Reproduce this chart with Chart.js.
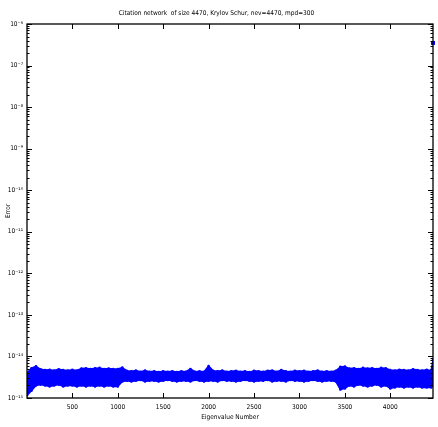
<!DOCTYPE html>
<html>
<head>
<meta charset="utf-8">
<script src="https://cdn.jsdelivr.net/npm/chart.js@4.4.0/dist/chart.umd.min.js"></script>
<style>
  html, body { margin: 0; padding: 0; background: #fff; }
  #wrap { width: 438px; height: 427px; }
</style>
</head>
<body>
<div id="wrap"><canvas id="errChart"></canvas></div>
<script>
// Eigenvalue index (sampled along the band)
const eigIndex = [1, 50, 100, 150, 200, 250, 300, 350, 400, 450,
  500, 550, 600, 650, 700, 750, 800, 850, 900, 950,
  1000, 1050, 1100, 1150, 1200, 1250, 1300, 1350, 1400, 1450,
  1500, 1550, 1600, 1650, 1700, 1750, 1800, 1850, 1900, 1950,
  2000, 2050, 2100, 2150, 2200, 2250, 2300, 2350, 2400, 2450,
  2500, 2550, 2600, 2650, 2700, 2750, 2800, 2850, 2900, 2950,
  3000, 3050, 3100, 3150, 3200, 3250, 3300, 3350, 3400, 3450,
  3500, 3550, 3600, 3650, 3700, 3750, 3800, 3850, 3900, 3950,
  4000, 4050, 4100, 4150, 4200, 4250, 4300, 4350, 4400, 4450, 4470];

// top and bottom of the error band, in units of 1e-15
const errUpper = [4.0, 5.2, 5.8, 4.9, 4.7, 4.8, 4.6, 4.9, 4.7, 4.6,
  4.8, 4.6, 5.1, 5.2, 5.0, 5.2, 5.3, 5.0, 5.1, 5.0,
  5.0, 5.4, 4.5, 4.4, 4.6, 4.3, 4.6, 4.3, 4.4, 4.2,
  4.4, 4.3, 4.4, 4.2, 4.4, 4.3, 5.0, 4.3, 4.4, 4.3,
  5.9, 4.5, 4.4, 4.6, 4.3, 4.4, 4.5, 4.3, 4.4, 4.2,
  4.5, 4.4, 4.3, 4.5, 4.6, 4.3, 4.7, 4.4, 4.3, 4.5,
  4.4, 4.5, 4.3, 4.4, 4.6, 4.3, 4.4, 4.3, 4.5, 5.6,
  5.7, 5.1, 5.2, 5.0, 5.3, 5.1, 5.2, 5.0, 5.3, 5.2,
  4.7, 4.6, 4.8, 4.7, 4.6, 4.9, 4.7, 4.6, 4.8, 4.6, 8.2];
const errLower = [1.15, 1.5, 2.0, 2.1, 2.0, 1.9, 2.0, 2.1, 1.9, 2.0,
  2.0, 1.9, 2.0, 1.9, 2.0, 1.9, 2.0, 1.9, 2.0, 1.9,
  1.9, 2.5, 2.6, 2.5, 2.6, 2.7, 2.5, 2.6, 2.6, 2.5,
  2.6, 2.7, 2.6, 2.5, 2.6, 2.6, 2.5, 2.7, 2.6, 2.5,
  2.6, 2.6, 2.5, 2.7, 2.6, 2.6, 2.5, 2.6, 2.7, 2.6,
  2.5, 2.6, 2.6, 2.7, 2.5, 2.6, 2.6, 2.5, 2.7, 2.6,
  2.6, 2.5, 2.6, 2.7, 2.6, 2.5, 2.6, 2.6, 2.5, 1.6,
  1.7, 2.0, 1.9, 2.1, 2.0, 1.9, 2.0, 2.1, 1.9, 2.0,
  1.7, 1.8, 1.9, 1.8, 1.9, 1.8, 1.9, 1.8, 1.8, 1.8, 2.0];
const ERR_UNIT = 1e-15;

// the one unconverged value at the end
const outlierIndex = [4470];
const outlierError = [3.5e-7];

const xTickValues = [500, 1000, 1500, 2000, 2500, 3000, 3500, 4000];
const yTickValues = [1e-15, 1e-14, 1e-13, 1e-12, 1e-11, 1e-10, 1e-9, 1e-8, 1e-7, 1e-6];
const yTickLabels = ['10⁻¹⁵', '10⁻¹⁴', '10⁻¹³', '10⁻¹²', '10⁻¹¹', '10⁻¹⁰', '10⁻⁹', '10⁻⁸', '10⁻⁷', '10⁻⁶'];

const FONT = "'Liberation Sans Narrow', 'DejaVu Sans Condensed', 'Liberation Sans', Arial, sans-serif";
const BLUE = '#0000ff';

// box + inward ticks, matlab style
const boxTicks = {
  id: 'boxTicks',
  afterDraw(chart) {
    const { ctx, chartArea: a, scales: { x, y } } = chart;
    ctx.save();
    ctx.strokeStyle = '#000';
    ctx.lineWidth = 1.3;
    ctx.strokeRect(a.left, a.top, a.right - a.left, a.bottom - a.top);
    ctx.lineWidth = 1;
    ctx.beginPath();
    xTickValues.forEach(v => {
      const px = Math.round(x.getPixelForValue(v)) + 0.5;
      ctx.moveTo(px, a.bottom); ctx.lineTo(px, a.bottom - 5);
      ctx.moveTo(px, a.top); ctx.lineTo(px, a.top + 5);
    });
    yTickValues.forEach((v, i) => {
      const py = Math.round(y.getPixelForValue(v)) + 0.5;
      ctx.moveTo(a.left, py); ctx.lineTo(a.left + 5, py);
      ctx.moveTo(a.right, py); ctx.lineTo(a.right - 5, py);
      if (i < yTickValues.length - 1) {
        for (let k = 2; k <= 9; k++) {
          const pm = Math.round(y.getPixelForValue(v * k)) + 0.5;
          ctx.moveTo(a.left, pm); ctx.lineTo(a.left + 2.5, pm);
          ctx.moveTo(a.right, pm); ctx.lineTo(a.right - 2.5, pm);
        }
      }
    });
    ctx.stroke();
    ctx.restore();
  }
};

const ctx = document.getElementById('errChart').getContext('2d');
const errChart = new Chart(ctx, {
  type: 'line',
  data: {
    datasets: [
      {
        label: 'upper',
        data: eigIndex.map((v, i) => ({ x: v, y: errUpper[i] * ERR_UNIT })),
        borderColor: BLUE,
        backgroundColor: BLUE,
        borderWidth: 1.5,
        pointRadius: 1.3,
        pointBorderWidth: 0,
        fill: false
      },
      {
        label: 'lower',
        data: eigIndex.map((v, i) => ({ x: v, y: errLower[i] * ERR_UNIT })),
        borderColor: BLUE,
        backgroundColor: BLUE,
        borderWidth: 1.5,
        pointRadius: 1.3,
        pointBorderWidth: 0,
        fill: '-1'
      },
      {
        label: 'outlier',
        data: outlierIndex.map((v, i) => ({ x: v, y: outlierError[i] })),
        showLine: false,
        clip: false,
        pointStyle: 'rect',
        pointRadius: 2.8,
        pointBorderWidth: 0,
        backgroundColor: BLUE,
        borderColor: BLUE
      }
    ]
  },
  options: {
    responsive: true,
    maintainAspectRatio: false,
    animation: false,
    layout: { padding: { left: 0, right: 5, top: 0, bottom: 0 } },
    plugins: {
      legend: { display: false },
      tooltip: { enabled: false },
      title: {
        display: true,
        text: 'Citation network  of size 4470, Krylov Schur, nev=4470, mpd=300',
        color: '#000',
        font: { family: FONT, size: 6.5, weight: 'normal' },
        padding: { top: 9, bottom: 7.2 }
      }
    },
    scales: {
      x: {
        type: 'linear',
        min: 1,
        max: 4470,
        afterBuildTicks: s => { s.ticks = xTickValues.map(v => ({ value: v })); },
        afterFit: s => { s.height = 29; },
        grid: { display: false, drawTicks: false },
        border: { display: false },
        ticks: {
          color: '#000',
          font: { family: FONT, size: 6.5 },
          padding: 5,
          maxRotation: 0,
          autoSkip: false,
          callback: value => String(value)
        },
        title: {
          display: true,
          text: 'Eigenvalue Number',
          color: '#000',
          font: { family: FONT, size: 6.5 },
          padding: { top: 0, bottom: 6 }
        }
      },
      y: {
        type: 'logarithmic',
        min: 1e-15,
        max: 1e-6,
        afterBuildTicks: s => { s.ticks = yTickValues.map(v => ({ value: v })); },
        afterFit: s => { s.width = 27; },
        grid: { display: false, drawTicks: false },
        border: { display: false },
        ticks: {
          color: '#000',
          font: { family: FONT, size: 6.5 },
          padding: 4,
          autoSkip: false,
          callback: (value, index) => yTickLabels[index]
        },
        title: {
          display: true,
          text: 'Error',
          color: '#000',
          font: { family: FONT, size: 6.5 },
          padding: { top: 4, bottom: 0 }
        }
      }
    }
  },
  plugins: [boxTicks]
});
</script>
</body>
</html>
